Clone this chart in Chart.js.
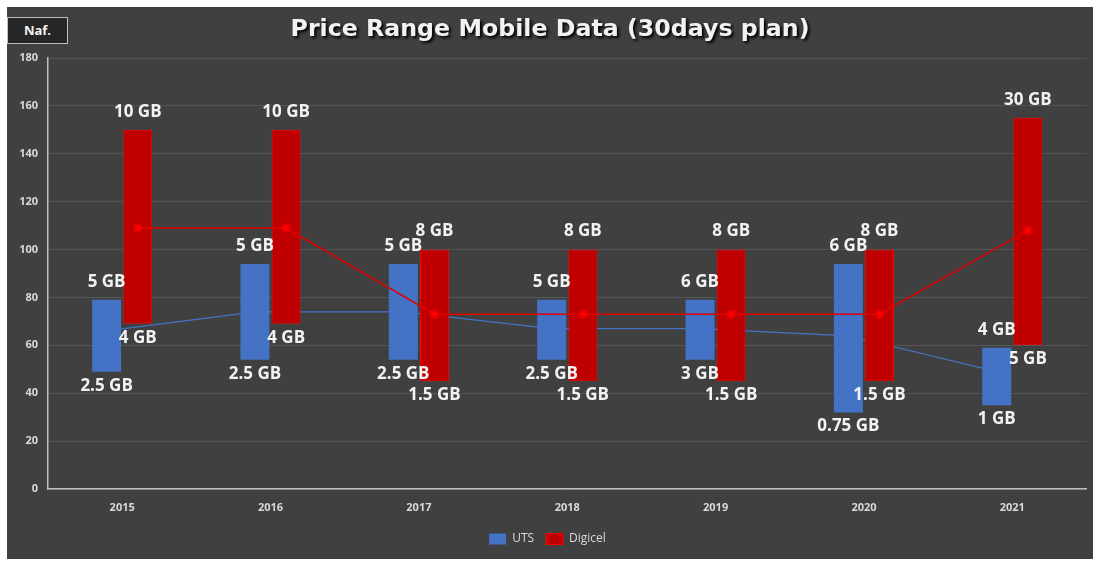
<!DOCTYPE html>
<html>
<head>
<meta charset="utf-8">
<script src="https://cdn.jsdelivr.net/npm/chart.js@4"></script>
<style>
    html, body { margin: 0; padding: 0; background: #ffffff; }
    #frame {
        position: absolute; left: 7px; top: 7px; width: 1086px; height: 552px;
        background: #404040;
    }
    #chart { position: absolute; left: 0; top: 0; }
    #title {
        position: absolute; left: 0; width: 1086px; top: 7px; text-align: center;
        font: bold 23.7px "DejaVu Sans", sans-serif; color: #f2f2f2;
        text-shadow: 2px 2px 3px #000000;
    }
    #unit {
        position: absolute; left: 0; top: 10px; width: 59px; height: 25px;
        background: #262626; border: 1px solid #bfbfbf;
        font: bold 13px "Open Sans", sans-serif; color: #f2f2f2;
        text-align: center; line-height: 25px;
    }
</style>
</head>
<body>
<div id="frame">
    <canvas id="chart" width="1086" height="552"></canvas>
    <div id="title">Price Range Mobile Data (30days plan)</div>
    <div id="unit">Naf.</div>
</div>
<script>
const years = ["2015", "2016", "2017", "2018", "2019", "2020", "2021"];

// price ranges [lowest, highest] per year
const utsRange = [[49, 79], [54, 94], [54, 94], [54, 79], [54, 79], [32, 94], [35, 59]];
const digicelRange = [[69, 150], [69, 150], [45, 100], [45, 100], [45, 100], [45, 100], [60, 155]];

// average price per year
const utsAverage = [66, 74, 74, 67, 67, 64, 49];
const digicelAverage = [109, 109, 73, 73, 73, 73, 108];

// data volume at the top and bottom of each bar
const utsTopLabels = ["5 GB", "5 GB", "5 GB", "5 GB", "6 GB", "6 GB", "4 GB"];
const utsBottomLabels = ["2.5 GB", "2.5 GB", "2.5 GB", "2.5 GB", "3 GB", "0.75 GB", "1 GB"];
const digicelTopLabels = ["10 GB", "10 GB", "8 GB", "8 GB", "8 GB", "8 GB", "30 GB"];
const digicelBottomLabels = ["4 GB", "4 GB", "1.5 GB", "1.5 GB", "1.5 GB", "1.5 GB", "5 GB"];

const yTicks = [0, 20, 40, 60, 80, 100, 120, 140, 160, 180];

// each bar takes this share of a year slot, the two sit side by side
const BAR_SHARE = 0.21;
const SHIFT = BAR_SHARE / 2;

const BLUE = "#4472C4";
const RED = "#C00000";

const shifted = (values, shift) => values.map((v, i) => ({ x: i + shift, y: v }));

// writes the GB figures above and below each bar
const rangeLabels = {
    id: "rangeLabels",
    afterDatasetsDraw(chart) {
        const ctx = chart.ctx;
        const sets = [
            [0, utsTopLabels, utsBottomLabels],
            [1, digicelTopLabels, digicelBottomLabels],
        ];
        ctx.save();
        ctx.font = "bold 17px 'Open Sans', sans-serif";
        ctx.fillStyle = "#f2f2f2";
        ctx.textAlign = "center";
        ctx.textBaseline = "middle";
        sets.forEach(([index, tops, bottoms]) => {
            const meta = chart.getDatasetMeta(index);
            meta.data.forEach((bar, i) => {
                ctx.fillText(tops[i], bar.x, bar.y - 18);
                ctx.fillText(bottoms[i], bar.x, bar.base + 14);
            });
        });
        ctx.restore();
    },
};

const tickFont = { family: "'Open Sans', sans-serif", size: 11, weight: "bold" };

new Chart(document.getElementById("chart"), {
    data: {
        labels: years,
        datasets: [
            {
                type: "bar",
                label: "UTS",
                data: shifted(utsRange, -SHIFT),
                xAxisID: "xl",
                grouped: false,
                backgroundColor: BLUE,
                borderWidth: 0,
                categoryPercentage: 0.93,
                barPercentage: 1,
                order: 3,
            },
            {
                type: "bar",
                label: "Digicel",
                data: shifted(digicelRange, SHIFT),
                xAxisID: "xl",
                grouped: false,
                backgroundColor: RED,
                borderColor: "#FF0000",
                borderWidth: 1,
                borderSkipped: false,
                categoryPercentage: 0.93,
                barPercentage: 1,
                order: 2,
            },
            {
                type: "line",
                label: "UTS average",
                data: shifted(utsAverage, -SHIFT),
                xAxisID: "xl",
                borderColor: BLUE,
                borderWidth: 1.25,
                pointRadius: 0,
                order: 5,
            },
            {
                type: "line",
                label: "Digicel average",
                data: shifted(digicelAverage, SHIFT),
                xAxisID: "xl",
                borderColor: "#E00000",
                borderWidth: 1.5,
                pointStyle: "star",
                pointRadius: 5,
                pointBorderColor: "#FF0000",
                pointBorderWidth: 1.5,
                order: 1,
            },
        ],
    },
    options: {
        responsive: false,
        animation: false,
        layout: { padding: { top: 51, right: 5, left: 0, bottom: 4 } },
        scales: {
            x: {
                type: "category",
                labels: years,
                offset: true,
                grid: { display: false, drawTicks: false },
                border: { color: "#bfbfbf", width: 1.5 },
                ticks: { color: "#d9d9d9", font: tickFont, padding: 12 },
                afterFit: (scale) => { scale.height = 32; },
            },
            xl: {
                type: "linear",
                display: false,
                offset: false,
                min: -0.5,
                max: 6.5,
            },
            y: {
                min: 0,
                max: 180,
                afterBuildTicks: (scale) => {
                    scale.ticks = yTicks.map((v) => ({ value: v }));
                },
                grid: { color: "#555555", drawTicks: false },
                border: { color: "#bfbfbf", width: 1.5 },
                ticks: { color: "#d9d9d9", font: tickFont, padding: 10 },
                afterFit: (scale) => { scale.width = 41; },
            },
        },
        plugins: {
            title: { display: false },
            tooltip: { enabled: false },
            legend: {
                position: "bottom",
                labels: {
                    filter: (item) => item.datasetIndex < 2,
                    sort: (a, b) => a.datasetIndex - b.datasetIndex,
                    boxWidth: 17,
                    boxHeight: 11,
                    color: "#d9d9d9",
                    font: { family: "'Open Sans', sans-serif", size: 12 },
                    padding: 12,
                },
            },
        },
    },
    plugins: [rangeLabels],
});
</script>
</body>
</html>
